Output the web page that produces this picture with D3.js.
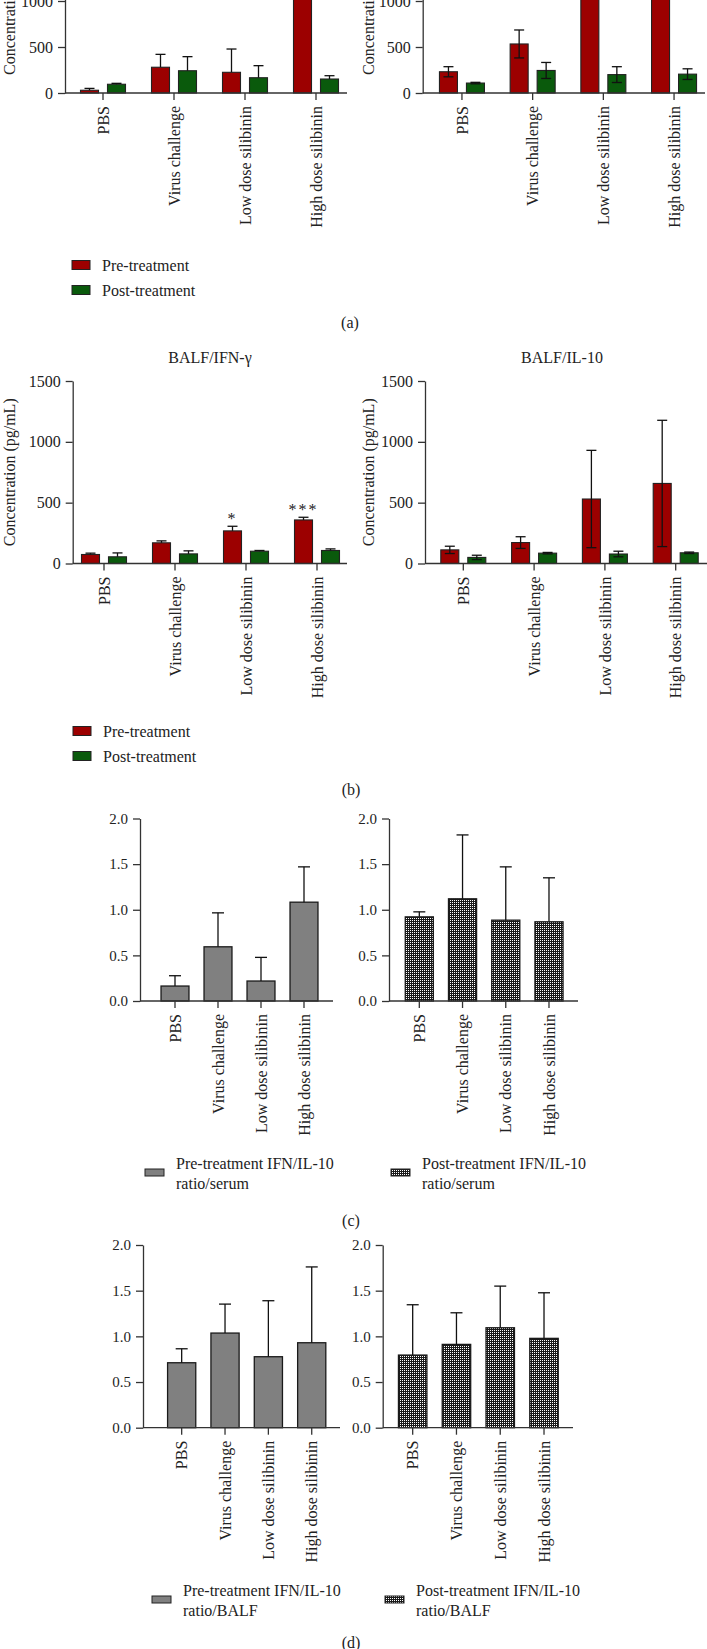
<!DOCTYPE html>
<html>
<head>
<meta charset="utf-8">
<script src="https://cdn.jsdelivr.net/npm/d3@7"></script>
<style>
  body { margin: 0; background: #fff; }
  svg { display: block; font-family: "Liberation Serif", "DejaVu Serif", serif; }
  svg text { font-family: "Liberation Serif", "DejaVu Serif", serif; }
</style>
</head>
<body>
<svg id="fig" width="707" height="1649"></svg>
<script>
// categories / series
const groups = ["PBS", "Virus challenge", "Low dose silibinin", "High dose silibinin"];
const seriesNames = ["Pre-treatment", "Post-treatment"];

// (a) left  (title cropped off)  - mean, +SD
const aLeftPre = [30, 280, 225, 1500];
const aLeftPreErr = [20, 140, 253, 200];
const aLeftPost = [95, 242, 166, 152];
const aLeftPostErr = [10, 153, 131, 36];
// (a) right
const aRightPre = [231, 533, 1300, 1350];
const aRightPreErr = [55, 152, 200, 250];
const aRightPost = [108, 245, 200, 205];
const aRightPostErr = [8, 87, 86, 58];

// (b) BALF/IFN-γ
const bIfnPre = [74, 170, 268, 358];
const bIfnPreErr = [11, 16, 38, 22];
const bIfnPost = [55, 79, 101, 107];
const bIfnPostErr = [32, 25, 6, 13];
const bIfnStars = ["", "", "*", "***"];
// (b) BALF/IL-10
const bIl10Pre = [112, 172, 530, 658];
const bIl10PreErr = [30, 48, 400, 519];
const bIl10Post = [50, 85, 78, 88];
const bIl10PostErr = [18, 6, 23, 6];

// (c) IFN/IL-10 ratio / serum
const cPre = [0.164, 0.594, 0.219, 1.083];
const cPreErr = [0.113, 0.372, 0.259, 0.387];
const cPost = [0.922, 1.12, 0.886, 0.868];
const cPostErr = [0.055, 0.70, 0.584, 0.482];

// (d) IFN/IL-10 ratio / BALF
const dPre = [0.711, 1.036, 0.777, 0.93];
const dPreErr = [0.153, 0.317, 0.613, 0.83];
const dPost = [0.795, 0.912, 1.094, 0.978];
const dPostErr = [0.551, 0.346, 0.456, 0.499];

const concTicks = [0, 500, 1000, 1500];
const ratioTicks = [0, 0.5, 1.0, 1.5, 2.0];

const RED = "#9c0000", GREEN = "#0a5a0c", GREY = "#808080";
const AXIS = "#333", TXT = "#222";
const SERIF = "'Liberation Serif', 'DejaVu Serif', serif";

const svg = d3.select("#fig");
svg.append("rect").attr("width", 707).attr("height", 1649).attr("fill", "#fff");

// dotted fill used for post-treatment ratio bars
const defs = svg.append("defs");
const pat = defs.append("pattern").attr("id", "dots")
  .attr("width", 2).attr("height", 2).attr("patternUnits", "userSpaceOnUse");
pat.append("rect").attr("width", 2).attr("height", 2).attr("fill", "#1a1a1a");
pat.append("rect").attr("width", 1).attr("height", 1).attr("fill", "#fff");

function yAxis(y, axisX, ticks, fmt, fs) {
  const g = svg.append("g")
    .attr("transform", "translate(" + axisX + ",0)")
    .call(d3.axisLeft(y).tickValues(ticks).tickSize(7).tickSizeOuter(0).tickPadding(5).tickFormat(fmt));
  g.attr("font-family", SERIF).attr("font-size", fs);
  g.selectAll("path,line").attr("stroke", AXIS).attr("stroke-width", 1.3);
  g.selectAll("text").attr("font-family", SERIF).attr("font-size", fs).attr("fill", TXT);
}

function xAxis(x, base, axisX, axisEnd) {
  const g = svg.append("g")
    .attr("transform", "translate(0," + base + ")")
    .call(d3.axisBottom(x).tickSize(7).tickSizeOuter(0));
  g.attr("font-family", SERIF).attr("font-size", 16);
  g.select(".domain").remove();
  g.append("line").attr("x1", axisX).attr("x2", axisEnd)
    .attr("stroke", AXIS).attr("stroke-width", 1.3);
  g.selectAll("line").attr("stroke", AXIS).attr("stroke-width", 1.3);
  g.selectAll(".tick text")
    .attr("transform", "rotate(-90)")
    .attr("text-anchor", "end")
    .attr("x", -13).attr("y", 0).attr("dy", "0.35em")
    .attr("font-family", SERIF).attr("font-size", 16).attr("fill", TXT);
}

function errBar(cx, yLo, yHi, cap, both) {
  const g = svg.append("g").attr("stroke", "#111").attr("stroke-width", 1.3);
  g.append("line").attr("x1", cx).attr("x2", cx).attr("y1", yLo).attr("y2", yHi);
  g.append("line").attr("x1", cx - cap / 2).attr("x2", cx + cap / 2).attr("y1", yHi).attr("y2", yHi);
  if (both)
    g.append("line").attr("x1", cx - cap / 2).attr("x2", cx + cap / 2).attr("y1", yLo).attr("y2", yLo);
}

function grouped(p) {
  const y = d3.scaleLinear().domain([0, p.max]).range([p.base, p.top]);
  const x0 = d3.scaleBand().domain(groups).range(p.band);
  const x1 = d3.scaleBand().domain(seriesNames).range([-22.5, 22.5]).paddingInner(1 / 3);
  const rows = [];
  groups.forEach((grp, i) => {
    rows.push({ grp, s: seriesNames[0], v: p.pre[i], e: p.preErr[i], c: RED });
    rows.push({ grp, s: seriesNames[1], v: p.post[i], e: p.postErr[i], c: GREEN });
  });
  const cxOf = (d) => x0(d.grp) + x0.bandwidth() / 2 + x1(d.s) + x1.bandwidth() / 2;

  svg.append("g").selectAll("rect").data(rows).enter().append("rect")
    .attr("x", (d) => x0(d.grp) + x0.bandwidth() / 2 + x1(d.s))
    .attr("y", (d) => y(d.v))
    .attr("width", x1.bandwidth())
    .attr("height", (d) => y(0) - y(d.v))
    .attr("fill", (d) => d.c)
    .attr("stroke", "#222").attr("stroke-width", 1.1);

  rows.forEach((d) => {
    errBar(cxOf(d), p.both ? y(d.v - d.e) : y(d.v), y(d.v + d.e), 10, p.both);
  });

  if (p.stars) {
    svg.append("g").selectAll("text").data(groups).enter().append("text")
      .attr("x", (grp) => cxOf({ grp, s: seriesNames[0] }))
      .attr("y", (grp, i) => y(p.pre[i] + p.preErr[i]) - 2)
      .attr("text-anchor", "middle").attr("font-size", 16).attr("fill", TXT)
      .attr("letter-spacing", 2)
      .text((grp, i) => p.stars[i]);
  }

  yAxis(y, p.axisX, concTicks.filter((t) => y(t) > 0), d3.format("d"), 16);
  xAxis(x0, p.base, p.axisX, p.axisEnd);

  svg.append("text")
    .attr("transform", "translate(" + p.labX + "," + (p.base + p.top) / 2 + ") rotate(-90)")
    .attr("text-anchor", "middle").attr("dy", "0.35em")
    .attr("font-size", 16).attr("fill", TXT)
    .text("Concentration (pg/mL)");
  if (p.title)
    svg.append("text").attr("x", p.titleX).attr("y", p.top - 24)
      .attr("text-anchor", "middle").attr("dy", "0.35em")
      .attr("font-size", 16).attr("fill", TXT).text(p.title);
}

function single(p) {
  const y = d3.scaleLinear().domain([0, 2]).range([p.base, p.top]);
  const x = d3.scaleBand().domain(groups).range(p.band).paddingInner(0.35).paddingOuter(0.175);
  svg.append("g").selectAll("rect").data(groups).enter().append("rect")
    .attr("x", (grp) => x(grp))
    .attr("y", (grp, i) => y(p.vals[i]))
    .attr("width", x.bandwidth())
    .attr("height", (grp, i) => y(0) - y(p.vals[i]))
    .attr("fill", p.fill)
    .attr("stroke", "#1a1a1a").attr("stroke-width", 1.3);
  groups.forEach((grp, i) => {
    errBar(x(grp) + x.bandwidth() / 2, y(p.vals[i]), y(p.vals[i] + p.errs[i]), 12, false);
  });
  yAxis(y, p.axisX, ratioTicks, d3.format(".1f"), 15);
  xAxis(x, p.base, p.axisX, p.axisEnd);
}

// (a)
grouped({ pre: aLeftPre, preErr: aLeftPreErr, post: aLeftPost, postErr: aLeftPostErr, both: false,
  max: 2000, base: 93, top: -91, band: [67.5, 351.5], axisX: 65, axisEnd: 347, labX: 9 });
grouped({ pre: aRightPre, preErr: aRightPreErr, post: aRightPost, postErr: aRightPostErr, both: true,
  max: 2000, base: 93, top: -91, band: [426.6, 709.4], axisX: 422.7, axisEnd: 705, labX: 368 });

// (b)
grouped({ pre: bIfnPre, preErr: bIfnPreErr, post: bIfnPost, postErr: bIfnPostErr, both: false, stars: bIfnStars,
  max: 1500, base: 563.5, top: 381, band: [68.5, 352.5], axisX: 72.7, axisEnd: 347, labX: 9,
  title: "BALF/IFN-\u03b3", titleX: 210 });
grouped({ pre: bIl10Pre, preErr: bIl10PreErr, post: bIl10Post, postErr: bIl10PostErr, both: true,
  max: 1500, base: 563.5, top: 381, band: [427.9, 711.1], axisX: 425, axisEnd: 707, labX: 368,
  title: "BALF/IL-10", titleX: 562 });

// (c)
single({ vals: cPre, errs: cPreErr, fill: GREY, base: 1001, top: 818.5, band: [153.5, 325.5], axisX: 140, axisEnd: 333 });
single({ vals: cPost, errs: cPostErr, fill: "url(#dots)", base: 1001, top: 818.5, band: [397.7, 570.6], axisX: 389, axisEnd: 578 });

// (d)
single({ vals: dPre, errs: dPreErr, fill: GREY, base: 1427.7, top: 1245, band: [160, 333.4], axisX: 143, axisEnd: 340 });
single({ vals: dPost, errs: dPostErr, fill: "url(#dots)", base: 1427.7, top: 1245, band: [390.8, 565.9], axisX: 382.7, axisEnd: 573 });

// legends
function colorLegend(x, y) {
  seriesNames.forEach((s, i) => {
    svg.append("rect").attr("x", x).attr("y", y + i * 25 - 4.5).attr("width", 18).attr("height", 9)
      .attr("fill", i === 0 ? RED : GREEN).attr("stroke", "#222").attr("stroke-width", 1);
    svg.append("text").attr("x", x + 30).attr("y", y + i * 25).attr("dy", "0.35em")
      .attr("font-size", 16).attr("fill", TXT).text(s);
  });
}
colorLegend(72, 265);
colorLegend(73, 731);

function ratioLegend(x, y, fill, line1, line2) {
  svg.append("rect").attr("x", x).attr("y", y + 6).attr("width", 19).attr("height", 7)
    .attr("fill", fill).attr("stroke", "#222").attr("stroke-width", 1);
  svg.append("text").attr("x", x + 31).attr("y", y).attr("dy", "0.35em")
    .attr("font-size", 16).attr("fill", TXT).text(line1);
  svg.append("text").attr("x", x + 31).attr("y", y + 20).attr("dy", "0.35em")
    .attr("font-size", 16).attr("fill", TXT).text(line2);
}
ratioLegend(145, 1163, GREY, "Pre-treatment IFN/IL-10", "ratio/serum");
ratioLegend(391, 1163, "url(#dots)", "Post-treatment IFN/IL-10", "ratio/serum");
ratioLegend(152, 1590, GREY, "Pre-treatment IFN/IL-10", "ratio/BALF");
ratioLegend(385, 1590, "url(#dots)", "Post-treatment IFN/IL-10", "ratio/BALF");

// panel letters
[["(a)", 350, 322], ["(b)", 351, 789], ["(c)", 351, 1220], ["(d)", 351, 1642]].forEach((l) => {
  svg.append("text").attr("x", l[1]).attr("y", l[2]).attr("dy", "0.35em")
    .attr("text-anchor", "middle").attr("font-size", 16).attr("fill", TXT).text(l[0]);
});
</script>
</body>
</html>
